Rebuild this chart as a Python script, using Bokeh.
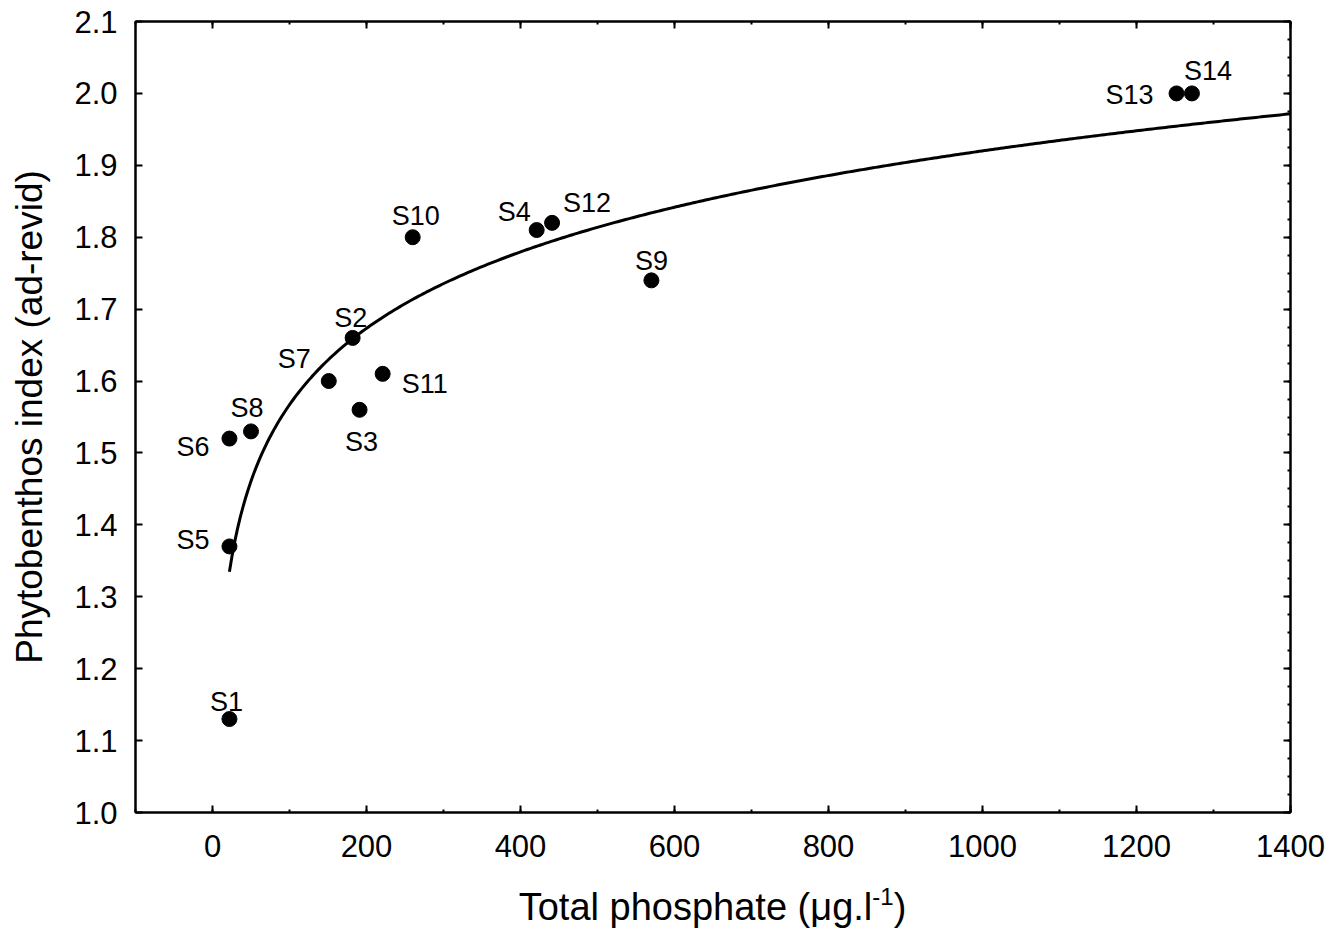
import numpy as np
from bokeh.plotting import figure
from bokeh.layouts import column
from bokeh.models import (LinearAxis, FixedTicker, PrintfTickFormatter, Range1d,
                          ColumnDataSource, Div, CustomJSTickFormatter)
from bokeh.core.properties import value, field
from bokeh.embed import file_html
from bokeh.resources import INLINE

# ---- data ----
sites = ["S1", "S2", "S3", "S4", "S5", "S6", "S7", "S8", "S9", "S10", "S11", "S12", "S13", "S14"]
phosphate = [22, 182, 191, 421, 22, 22, 151, 50, 570, 260, 221, 441, 1252, 1272]
phyto_index = [1.13, 1.66, 1.56, 1.81, 1.37, 1.52, 1.60, 1.53, 1.74, 1.80, 1.61, 1.82, 2.00, 2.00]

x_ticks = [0, 200, 400, 600, 800, 1000, 1200, 1400]
y_ticks = [1.0, 1.1, 1.2, 1.3, 1.4, 1.5, 1.6, 1.7, 1.8, 1.9, 2.0, 2.1]

x_title = "Total phosphate (μg.l"
x_title_sup = "-1"
x_title_end = ")"
y_title = "Phytobenthos index (ad-revid)"

# label placement (pixels relative to each point)
label_dx = [-3, -2, 2, -6, -20, -20, -18, -4, 0, 3, 19, 11, -23, -8]
label_dy = [-17, -20, 32, -18, -6, 8, -22, -23, -19, -21, 10, -20, 2, -22]
label_align = ["center", "center", "center", "right", "right", "right", "right", "center",
               "center", "center", "left", "left", "right", "left"]

FONT = "Liberation Sans"

# logarithmic regression y = a + b ln(x)
b, a = np.polyfit(np.log(phosphate), phyto_index, 1)
curve_x = np.linspace(min(phosphate), 1400, 400)
curve_y = a + b * np.log(curve_x)

p = figure(width=1330, height=888,
           x_range=Range1d(-100, 1400), y_range=Range1d(1.0, 2.1),
           x_axis_type=None, y_axis_type=None,
           output_backend="svg", toolbar_location=None,
           min_border_left=135, min_border_right=40,
           min_border_top=21, min_border_bottom=76)
p.grid.visible = False
p.outline_line_color = "black"
p.outline_line_width = 2
p.background_fill_color = "white"
p.border_fill_color = "white"

x_minor = list(range(-100, 1401, 100))
y_minor = [round(v, 3) for v in np.arange(1.0, 2.1001, 0.025)]


def style(ax, labels=True, minor=True):
    ax.axis_line_color = "black"
    ax.axis_line_width = 2
    ax.major_tick_in = 7
    ax.major_tick_out = 0
    ax.major_tick_line_width = 2
    ax.major_tick_line_color = "black"
    if minor:
        ax.minor_tick_in = 3
        ax.minor_tick_out = 0
        ax.minor_tick_line_width = 2
        ax.minor_tick_line_color = "black"
    else:
        ax.minor_tick_line_color = None
    ax.major_label_text_font = FONT
    ax.major_label_text_font_size = "31px"
    ax.major_label_text_color = "black"
    if not labels:
        ax.formatter = CustomJSTickFormatter(code="return ''")
        ax.major_label_standoff = 0


xb = LinearAxis(ticker=FixedTicker(ticks=x_ticks, minor_ticks=x_minor))
style(xb)
xb.major_label_standoff = 22
p.add_layout(xb, "below")

xt = LinearAxis(ticker=FixedTicker(ticks=x_ticks, minor_ticks=x_minor))
style(xt, labels=False)
p.add_layout(xt, "above")

yl = LinearAxis(ticker=FixedTicker(ticks=y_ticks, minor_ticks=[]),
                formatter=PrintfTickFormatter(format="%.1f"))
style(yl, minor=False)
yl.major_label_standoff = 18
yl.axis_label = y_title
yl.axis_label_text_font = FONT
yl.axis_label_text_font_size = "37px"
yl.axis_label_text_font_style = "normal"
yl.axis_label_text_color = "black"
yl.axis_label_standoff = 21
p.add_layout(yl, "left")

yr = LinearAxis(ticker=FixedTicker(ticks=y_ticks, minor_ticks=y_minor))
style(yr, labels=False)
p.add_layout(yr, "right")

# fitted curve
p.line(curve_x, curve_y, line_color="black", line_width=3)

src = ColumnDataSource(dict(x=phosphate, y=phyto_index, site=sites,
                            dx=label_dx, dy=label_dy, align=label_align))
p.scatter("x", "y", source=src, size=15, fill_color="black", line_color="black")
p.text("x", "y", text="site", source=src, x_offset="dx", y_offset="dy",
       text_align=field("align"), text_baseline="alphabetic",
       text_font=value(FONT), text_font_size="27px", text_color="black")

# x axis title with a real superscript
title_html = (f'{x_title}<span style="position:relative; top:-15px; font-size:24px;">'
              f'{x_title_sup}</span>{x_title_end}')
xdiv = Div(text=title_html, width=1155, height=45, margin=(0, 0, 0, 135),
           styles={"text-align": "center", "font-family": FONT, "font-size": "38px",
                   "line-height": "38px", "color": "black", "white-space": "nowrap"})

layout = column(p, xdiv, spacing=0)
open("out.html", "w").write(file_html(layout, INLINE))
